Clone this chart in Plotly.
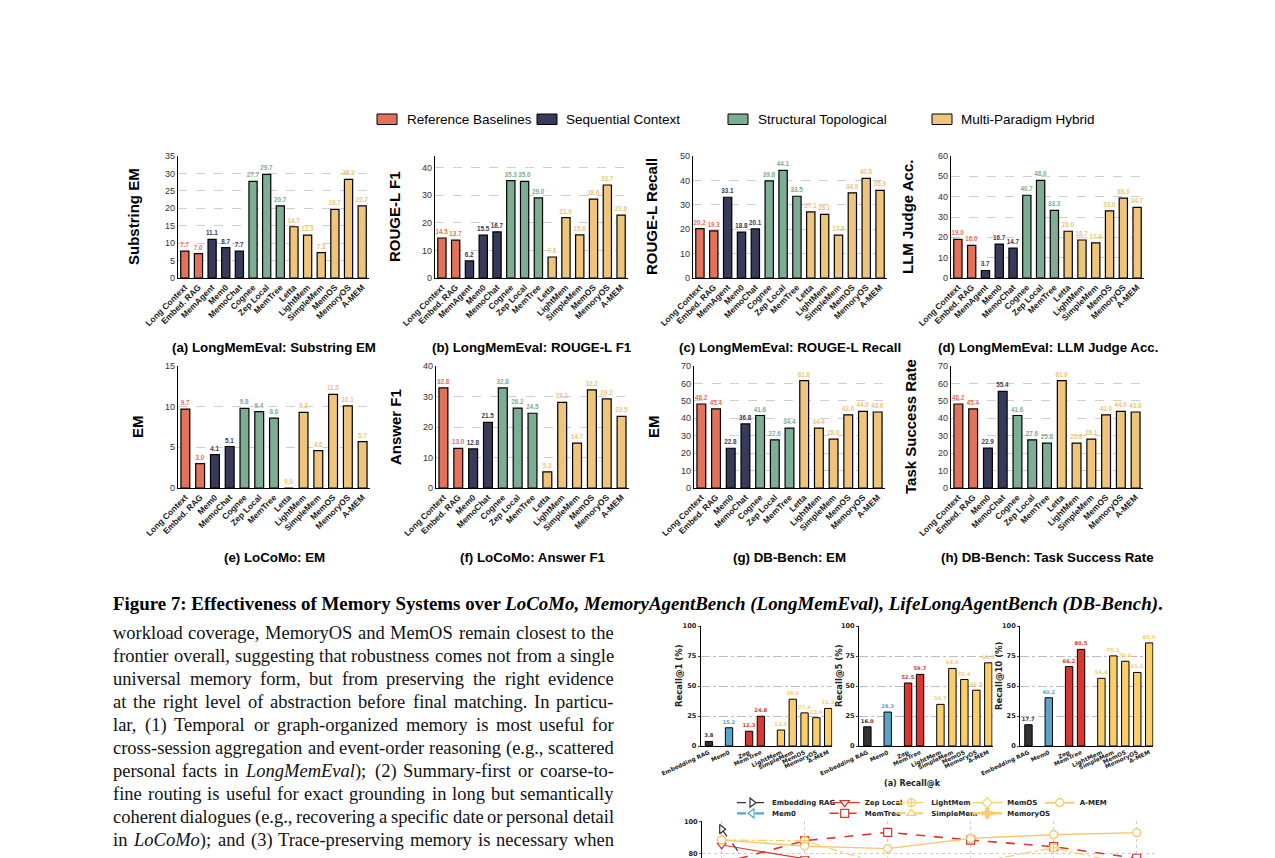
import re
import plotly.graph_objects as go

W, H = 1275, 858

# ---------------- data ----------------
lme_methods = ["Long Context", "Embed. RAG", "MemAgent", "Mem0", "MemoChat", "Cognee",
               "Zep Local", "MemTree", "Letta", "LightMem", "SimpleMem", "MemOS",
               "MemoryOS", "A-MEM"]
lme_groups = ["ref", "ref", "seq", "seq", "seq", "topo", "topo", "topo",
              "hyb", "hyb", "hyb", "hyb", "hyb", "hyb"]
other_methods = ["Long Context", "Embed. RAG", "Mem0", "MemoChat", "Cognee", "Zep Local",
                 "MemTree", "Letta", "LightMem", "SimpleMem", "MemOS", "MemoryOS", "A-MEM"]
other_groups = ["ref", "ref", "seq", "seq", "topo", "topo", "topo",
                "hyb", "hyb", "hyb", "hyb", "hyb", "hyb"]

lme_substring_em = [7.7, 7.0, 11.1, 8.7, 7.7, 27.7, 29.7, 20.7, 14.7, 12.3, 7.3, 19.7, 28.3, 20.7]
lme_rougel_f1 = [14.5, 13.7, 6.2, 15.5, 16.7, 35.3, 35.0, 29.0, 7.6, 21.9, 15.6, 28.6, 33.7, 22.8]
lme_rougel_recall = [20.2, 19.3, 33.1, 18.8, 20.1, 39.8, 44.1, 33.5, 27.1, 26.1, 17.6, 34.9, 40.8, 35.9]
lme_llm_judge = [19.0, 16.0, 3.7, 16.7, 14.7, 40.7, 48.0, 33.3, 23.0, 18.7, 17.3, 33.0, 39.3, 34.7]
locomo_em = [9.7, 3.0, 4.1, 5.1, 9.8, 9.4, 8.6, 0.0, 9.3, 4.6, 11.5, 10.1, 5.7]
locomo_answer_f1 = [32.8, 13.0, 12.8, 21.5, 32.8, 26.2, 24.5, 5.3, 28.1, 14.7, 32.2, 29.2, 23.5]
dbbench_em = [48.2, 45.4, 22.8, 36.8, 41.6, 27.6, 34.4, 61.6, 34.4, 28.0, 42.0, 44.0, 43.6]
dbbench_success = [48.2, 45.4, 22.9, 55.4, 41.6, 27.6, 25.8, 61.6, 25.8, 28.1, 42.0, 44.0, 43.6]

group_order = ["ref", "seq", "topo", "hyb"]
group_labels = ["Reference Baselines", "Sequential Context", "Structural Topological",
                "Multi-Paradigm Hybrid"]

recall_methods = ["Embedding RAG", "Mem0", "Zep", "MemTree", "LightMem", "SimpleMem",
                  "MemOS", "MemoryOS", "A-MEM"]
recall_families = ["rag", "mem0", "graph", "graph", "hyb", "hyb", "hyb", "hyb", "hyb"]
recall_at_1 = [3.8, 15.2, 12.3, 24.8, 13.3, 39.0, 27.6, 23.6, 31.3]
recall_at_5 = [16.0, 28.3, 52.5, 59.7, 34.7, 64.6, 55.4, 46.5, 69.3]
recall_at_10 = [17.7, 40.2, 66.2, 80.5, 56.4, 75.1, 70.6, 61.3, 85.9]

trend_steps = [1, 2, 3, 4, 5, 6]
trend_embedding_rag = [95.3, 25.0, None, None, None, None]
trend_mem0 = [None, None, None, None, None, None]
trend_zep_local = [85.3, 76.6, None, None, None, None]
trend_memtree = [73.7, 88.0, 93.3, 88.4, 84.2, 76.9]
trend_lightmem = [88.4, 88.0, 72.0, 73.6, 83.5, 71.7]
trend_simplemem = [None, None, None, None, None, None]
trend_memos = [None, None, None, None, None, None]
trend_memoryos = [None, None, None, None, None, None]
trend_amem = [88.4, 84.6, 83.0, 89.5, 91.8, 93.1]

caption_text = ("<b>Figure 7: Effectiveness of Memory Systems over <i>LoCoMo, MemoryAgentBench "
                "(LongMemEval), LifeLongAgentBench (DB-Bench)</i>.</b>")
body_lines = [
    "workload coverage, MemoryOS and MemOS remain closest to the",
    "frontier overall, suggesting that robustness comes not from a single",
    "universal memory form, but from preserving the right evidence",
    "at the right level of abstraction before final matching. In particu-",
    "lar, (1) Temporal or graph-organized memory is most useful for",
    "cross-session aggregation and event-order reasoning (e.g., scattered",
    "personal facts in <i>LongMemEval</i>); (2) Summary-first or coarse-to-",
    "fine routing is useful for exact grounding in long but semantically",
    "coherent dialogues (e.g., recovering a specific date or personal detail",
    "in <i>LoCoMo</i>); and (3) Trace-preserving memory is necessary when",
]

# ---------------- style ----------------
GROUP_COLORS = {"ref": "#E2735A", "seq": "#373B59", "topo": "#7DAE93", "hyb": "#EFC57B"}
FAMILY_COLORS = {"rag": "#333333", "mem0": "#5BA4C9", "graph": "#D7372E", "hyb": "#F9CE6B"}
SANS = "Liberation Sans, Arial, sans-serif"
DJV = "DejaVu Sans, sans-serif"
SERIF = "Liberation Serif, Times New Roman, serif"

# Times-compatible advance widths (1/1000 em) used to justify the body text
_w = {" ": 250, "!": 333, "(": 333, ")": 333, ",": 250, "-": 333, ".": 250, ":": 278,
      ";": 278, "'": 333}
_w.update({d: 500 for d in "0123456789"})
_w.update(dict(zip("ABCDEFGHIJKLMNOPQRSTUVWXYZ",
                   [722, 667, 667, 722, 611, 556, 722, 722, 333, 389, 722, 611, 889, 722,
                    722, 556, 722, 667, 556, 611, 722, 722, 944, 722, 722, 611])))
_w.update(dict(zip("abcdefghijklmnopqrstuvwxyz",
                   [444, 500, 444, 500, 444, 333, 500, 500, 278, 278, 500, 278, 778, 500,
                    500, 500, 500, 333, 389, 278, 500, 500, 722, 500, 500, 444])))


def text_em(s):
    plain = re.sub(r"<[^>]+>", "", s)
    return sum(_w.get(ch, 500) for ch in plain) / 1000.0


def fx(p):
    return p / W


def fy(p):
    return 1 - p / H


fig = go.Figure()
layout = dict(template="none", width=W, height=H, margin=dict(l=0, r=0, t=0, b=0, pad=0),
              paper_bgcolor="white", plot_bgcolor="white", showlegend=True,
              font=dict(family=SANS, color="black"))
annotations = []
shapes = []


def ann(text, x, y, size, family, color="black", xanchor="center", yanchor="middle",
        angle=0, weight="normal"):
    annotations.append(dict(text=text, x=fx(x), y=fy(y), xref="paper", yref="paper",
                            showarrow=False, xanchor=xanchor, yanchor=yanchor,
                            textangle=angle, borderpad=0,
                            font=dict(size=size, family=family, color=color, weight=weight)))


axis_counter = [0]


def new_axes(x0, x1, ytop, ybot, xaxis, yaxis):
    axis_counter[0] += 1
    n = axis_counter[0]
    sfx = "" if n == 1 else str(n)
    xaxis.update(domain=[fx(x0), fx(x1)], anchor="y" + sfx, automargin=False)
    yaxis.update(domain=[fy(ybot), fy(ytop)], anchor="x" + sfx, automargin=False)
    layout["xaxis" + sfx] = xaxis
    layout["yaxis" + sfx] = yaxis
    return "x" + sfx, "y" + sfx


# ---------------- Figure 7 panels ----------------
panels = [
    (lme_substring_em, lme_methods, lme_groups, 35, 5, "Substring EM",
     "(a) LongMemEval: Substring EM", (178, 369, 156, 278), 134, 347),
    (lme_rougel_f1, lme_methods, lme_groups, 44.2, 10, "ROUGE-L F1",
     "(b) LongMemEval: ROUGE-L F1", (435, 628, 156, 278), 395, 347),
    (lme_rougel_recall, lme_methods, lme_groups, 50, 10, "ROUGE-L Recall",
     "(c) LongMemEval: ROUGE-L Recall", (693, 887, 156, 278), 652, 347),
    (lme_llm_judge, lme_methods, lme_groups, 60, 10, "LLM Judge Acc.",
     "(d) LongMemEval: LLM Judge Acc.", (951, 1144, 156, 278), 908, 347),
    (locomo_em, other_methods, other_groups, 15, 5, "EM",
     "(e) LoCoMo: EM", (178, 370, 366, 488), 137, 557),
    (locomo_answer_f1, other_methods, other_groups, 40, 10, "Answer F1",
     "(f) LoCoMo: Answer F1", (436, 629, 366, 488), 395, 557),
    (dbbench_em, other_methods, other_groups, 70, 10, "EM",
     "(g) DB-Bench: EM", (694, 885, 366, 488), 653, 557),
    (dbbench_success, other_methods, other_groups, 70, 10, "Task Success Rate",
     "(h) DB-Bench: Task Success Rate", (951, 1143, 366, 488), 910, 557),
]

for vals, methods, groups, ymax, dtick, ytitle, title, box, ytx, tty in panels:
    x0, x1, yt, yb = box
    n = len(vals)
    xa, ya = new_axes(
        x0, x1, yt, yb,
        dict(range=[-0.5, n - 0.5], tickvals=list(range(n)), ticktext=methods,
             tickangle=-45, tickfont=dict(family=SANS, size=8.5, color="#1a1a1a", weight="bold"),
             showline=True, linecolor="black", linewidth=1.3, showgrid=False,
             zeroline=False, ticks="", fixedrange=True),
        dict(range=[0, ymax], dtick=dtick, tick0=0, showgrid=True, gridcolor="#cfcfcf",
             griddash="dash", gridwidth=0.8, showline=True, linecolor="black", linewidth=1.3,
             zeroline=False, ticks="", tickfont=dict(family=SANS, size=9, color="#333"),
             fixedrange=True))
    colors = [GROUP_COLORS[g] for g in groups]
    fig.add_trace(go.Bar(
        x=list(range(n)), y=vals, width=0.6, xaxis=xa, yaxis=ya, showlegend=False,
        marker=dict(color=colors, line=dict(color="black", width=1.2)),
        text=[f"{v:.1f}" for v in vals], textposition="outside", cliponaxis=False,
        constraintext="none",
        textfont=dict(family=SANS, size=6.3, color=colors, weight="bold")))
    ann(ytitle, ytx, (yt + yb) / 2, 15, SANS, angle=-90, weight="bold")
    ann(title, (x0 + x1) / 2, tty, 13.3, SANS, weight="bold")

# top legend (category colors)
legend_boxes = [377, 537, 728, 932]
legend_text_x = [406, 565, 757, 960]
for g, label, bx, tx in zip(group_order, group_labels, legend_boxes, legend_text_x):
    shapes.append(dict(type="rect", xref="paper", yref="paper", x0=fx(bx), x1=fx(bx + 20),
                       y0=fy(124.5), y1=fy(114), fillcolor=GROUP_COLORS[g],
                       line=dict(color="black", width=1)))
    ann(label, tx, 119, 13.5, SANS, xanchor="left")

# caption (centred on the page)
ann(caption_text, W / 2, 604, 18.9, SERIF, xanchor="center")

# body text, justified between x=112 and x=613
BODY_SIZE = 18.5
BODY_LEFT, BODY_RIGHT = 112, 613
for i, line in enumerate(body_lines):
    words = line.split(" ")
    widths = [text_em(wd) * BODY_SIZE for wd in words]
    gap = (BODY_RIGHT - BODY_LEFT - sum(widths)) / (len(words) - 1)
    x = BODY_LEFT
    for wd, wpx in zip(words, widths):
        ann(wd, x, 633 + 23 * i, BODY_SIZE, SERIF, color="#111", xanchor="left")
        x += wpx + gap

# ---------------- Recall@k panels ----------------
cluster_of = []
c = 0
for i, fam in enumerate(recall_families):
    if i > 0 and fam != recall_families[i - 1]:
        c += 1
    cluster_of.append(c)
recall_pos = [i + 0.7 * cl for i, cl in enumerate(cluster_of)]
recall_panels = [
    (recall_at_1, "Recall@1 (%)", (700.7, 832.3), 679),
    (recall_at_5, "Recall@5 (%)", (859.0, 992.5), 839),
    (recall_at_10, "Recall@10 (%)", (1020.1, 1153.4), 999),
]
for vals, ytitle, (x0, x1), ytx in recall_panels:
    xa, ya = new_axes(
        x0, x1, 626, 746,
        dict(range=[-0.7, 10.45], tickvals=recall_pos, ticktext=recall_methods,
             tickangle=-25, tickfont=dict(family=DJV, size=5.8, color="#222", weight="bold"),
             showline=True, linecolor="black", linewidth=1, showgrid=False, zeroline=False,
             ticks="", fixedrange=True),
        dict(range=[0, 100], dtick=25, showgrid=True, gridcolor="#bdbdbd", griddash="dashdot",
             gridwidth=0.8, showline=True, linecolor="black", linewidth=1, zeroline=False,
             ticks="outside", ticklen=2, tickfont=dict(family=DJV, size=6.6, color="#222",
                                                        weight="bold"), fixedrange=True))
    colors = [FAMILY_COLORS[f] for f in recall_families]
    fig.add_trace(go.Bar(
        x=recall_pos, y=vals, width=0.62, xaxis=xa, yaxis=ya, showlegend=False,
        marker=dict(color=colors, line=dict(color="black", width=1)),
        text=[f"{v:.1f}" for v in vals], textposition="outside", cliponaxis=False,
        constraintext="none",
        textfont=dict(family=DJV, size=5.2, color=colors, weight="bold")))
    ann(ytitle, ytx, 676, 8.5, DJV, angle=-90, weight="bold", color="#222")
ann("(a) Recall@k", 912, 783, 8, DJV, weight="bold", color="#222")

# ---------------- trend line chart (cut off at page bottom) ----------------
xa, ya = new_axes(
    702, 1157, 821.1, 858,
    dict(range=[0.763, 6.245], dtick=1, showgrid=True, gridcolor="#cccccc", griddash="dot",
         showticklabels=False, ticks="", zeroline=False, showline=False, fixedrange=True),
    dict(range=[77.07, 100.4], dtick=20, tick0=0, showgrid=True, gridcolor="#cccccc",
         griddash="dot", showline=True, linecolor="black", linewidth=1, zeroline=False,
         ticks="outside", ticklen=2,
         tickfont=dict(family=DJV, size=6.6, color="#222", weight="bold"), fixedrange=True))

trend_specs = [
    ("Embedding RAG", trend_embedding_rag, "#333333", "dash", 1.2, "triangle-right", 774, 802.7),
    ("Mem0", trend_mem0, "#5BA4C9", "dashdot", 2.2, "triangle-left", 774, 813.3),
    ("Zep Local", trend_zep_local, "#D7372E", "solid", 1.2, "triangle-down", 866.7, 802.7),
    ("MemTree", trend_memtree, "#D7372E", "dash", 1.6, "square", 866.7, 813.3),
    ("LightMem", trend_lightmem, "#F9CE6B", "dashdot", 1.2, "circle-cross", 933.3, 802.7),
    ("SimpleMem", trend_simplemem, "#F9CE6B", "dashdot", 2.0, "triangle-up", 933.3, 813.3),
    ("MemOS", trend_memos, "#F9CE6B", "solid", 1.2, "diamond", 1009.3, 802.7),
    ("MemoryOS", trend_memoryos, "#F9CE6B", "solid", 2.6, "cross", 1009.3, 813.3),
    ("A-MEM", trend_amem, "#F7C467", "solid", 1.4, "circle", 1081.7, 802.7),
]
for k, (name, vals, col, dash, lw, sym, tx, ty) in enumerate(trend_specs):
    lg = "legend" + str(k + 2)
    filled = sym == "cross"
    fig.add_trace(go.Scatter(
        x=trend_steps, y=vals, name=name, mode="lines+markers", xaxis=xa, yaxis=ya,
        line=dict(color=col, dash=dash, width=lw), legend=lg,
        marker=dict(symbol=sym, size=8, color=col if filled else "white",
                    line=dict(color=col, width=1.2))))
    layout[lg] = dict(x=fx(tx - 42), y=fy(ty), xanchor="left", yanchor="middle",
                      bgcolor="rgba(0,0,0,0)", borderwidth=0, itemwidth=30,
                      font=dict(family=DJV, size=7, color="#222", weight="bold"))

layout["annotations"] = annotations
layout["shapes"] = shapes
fig.update_layout(**layout)
fig.write_html("out.html")
